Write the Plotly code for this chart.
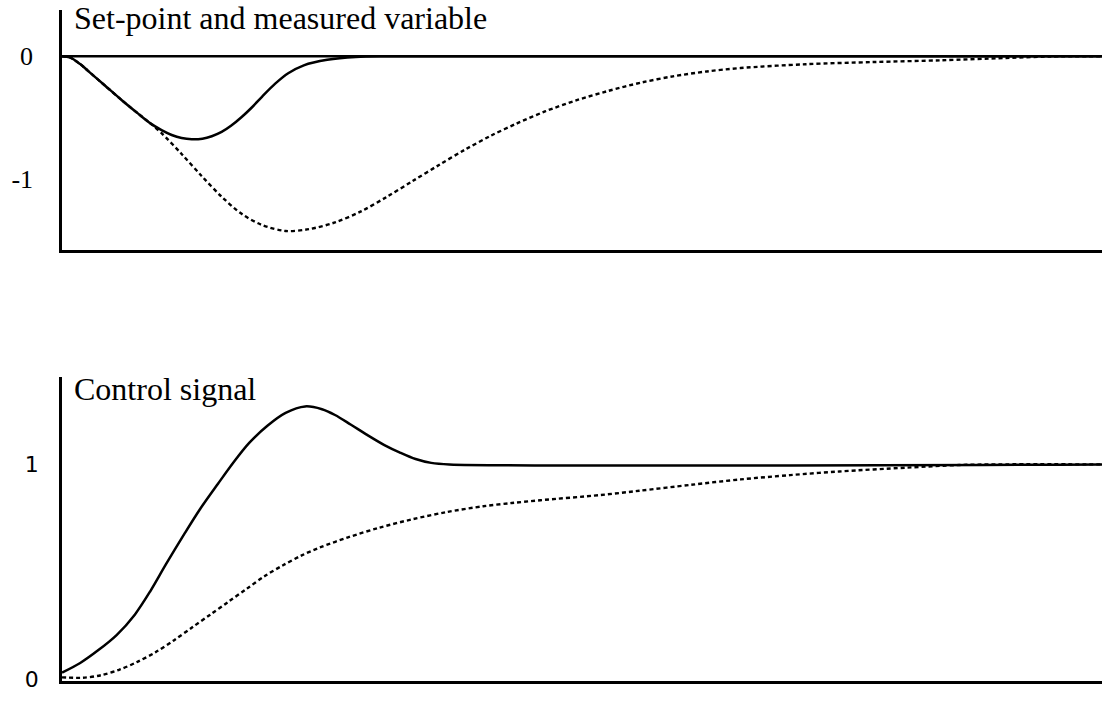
import plotly.graph_objects as go

# Time axis (arbitrary units) and responses, read as sample points
t_meas_ff = [0, 0.3, 0.7, 1.0, 1.65, 2.3, 2.93, 3.4, 3.83, 4.22, 4.6, 4.99,
             5.4, 5.76, 6.14, 6.5, 6.9, 7.3, 7.7, 8.2, 8.7, 9.3, 10.2, 11.3,
             12.5, 40]
y_meas_ff = [0, -0.01, -0.065, -0.12, -0.24, -0.36, -0.47, -0.55, -0.605,
             -0.645, -0.67, -0.68, -0.675, -0.655, -0.62, -0.57, -0.50, -0.42,
             -0.33, -0.225, -0.14, -0.075, -0.03, -0.006, 0, 0]

t_meas_fb = [0, 0.3, 0.7, 1.0, 1.65, 2.3, 2.93, 3.4, 3.83, 4.6, 5.37, 6.14,
             6.91, 7.68, 8.6, 9.5, 10.5, 11.5, 12.5, 13.5, 14.5, 15.5, 16.5,
             17.5, 18.6, 19.8, 21.0, 22.3, 23.5, 24.8, 26.1, 28.6, 31.2, 33.8,
             36.3, 38.0, 40]
y_meas_fb = [0, -0.01, -0.065, -0.12, -0.24, -0.36, -0.47, -0.55, -0.63,
             -0.80, -0.98, -1.15, -1.29, -1.38, -1.43, -1.415, -1.36, -1.27,
             -1.15, -1.02, -0.89, -0.765, -0.65, -0.55, -0.45, -0.36, -0.285,
             -0.215, -0.165, -0.125, -0.097, -0.066, -0.048, -0.034, -0.015,
             -0.003, 0]

t_setpoint = [0, 40]
y_setpoint = [0, 0]

t_ctrl_ff = [0, 0.7, 1.4, 2.1, 2.8, 3.4, 4.0, 4.7, 5.3, 6.0, 6.6, 7.2, 7.9,
             8.6, 9.35, 10.0, 10.5, 11.1, 11.7, 12.4, 13.0, 13.6, 14.2, 14.9,
             40]
u_ctrl_ff = [0.03, 0.075, 0.135, 0.205, 0.30, 0.41, 0.535, 0.675, 0.79, 0.91,
             1.01, 1.10, 1.18, 1.24, 1.27, 1.257, 1.23, 1.186, 1.14, 1.09,
             1.055, 1.025, 1.007, 1.0, 1.0]

t_ctrl_fb = [0, 0.8, 1.5, 2.2, 2.9, 3.6, 4.3, 5.0, 5.7, 6.4, 7.1, 7.8, 8.5,
             9.2, 9.9, 11.0, 12.2, 13.5, 14.8, 16.2, 17.3, 18.4, 20.7, 22.2,
             24.2, 26.1, 28.0, 29.9, 32.5, 34.5, 36.0, 40]
u_ctrl_fb = [0.008, 0.006, 0.018, 0.043, 0.08, 0.125, 0.18, 0.24, 0.30, 0.36,
             0.42, 0.48, 0.53, 0.575, 0.612, 0.66, 0.705, 0.745, 0.778, 0.805,
             0.82, 0.833, 0.857, 0.877, 0.905, 0.93, 0.95, 0.967, 0.985,
             0.997, 1.0, 1.0]

top_ticks = [0, -1]
top_ticktext = ["0", "-1"]
bottom_ticks = [0, 1]
bottom_ticktext = ["0", "1"]

W, H = 1115, 704
SOLID = dict(color="black", width=2.5)
DASHED = dict(color="black", width=2.4, dash="4px,3px")
SMOOTH = dict(shape="spline", smoothing=0.9)

fig = go.Figure()
fig.add_trace(go.Scatter(x=t_setpoint, y=y_setpoint, mode="lines", line=SOLID,
                         xaxis="x", yaxis="y"))
fig.add_trace(go.Scatter(x=t_meas_fb, y=y_meas_fb, mode="lines",
                         line=dict(DASHED, **SMOOTH), xaxis="x", yaxis="y"))
fig.add_trace(go.Scatter(x=t_meas_ff, y=y_meas_ff, mode="lines",
                         line=dict(SOLID, **SMOOTH), xaxis="x", yaxis="y"))
fig.add_trace(go.Scatter(x=t_ctrl_fb, y=u_ctrl_fb, mode="lines",
                         line=dict(DASHED, **SMOOTH), xaxis="x2", yaxis="y2"))
fig.add_trace(go.Scatter(x=t_ctrl_ff, y=u_ctrl_ff, mode="lines",
                         line=dict(SOLID, **SMOOTH), xaxis="x2", yaxis="y2"))

x_dom = [62 / W, 1102 / W]
common_x = dict(domain=x_dom, range=[0, 40], showline=True, linecolor="black",
                linewidth=2.5, showticklabels=False, ticks="", showgrid=False,
                zeroline=False)
common_y = dict(showline=True, linecolor="black", linewidth=2.5, ticks="",
                showgrid=False, zeroline=False)

fig.update_layout(
    width=W, height=H,
    margin=dict(l=0, r=0, t=0, b=0),
    paper_bgcolor="white", plot_bgcolor="white",
    showlegend=False,
    xaxis=dict(common_x, anchor="y"),
    yaxis=dict(common_y, anchor="x", domain=[1 - 254 / H, 1 - 10 / H],
               range=[-1.586, 0.379], tickvals=top_ticks, ticktext=top_ticktext,
               ticklabelstandoff=21,
               tickfont=dict(family="Liberation Serif", size=26, color="black")),
    xaxis2=dict(common_x, anchor="y2"),
    yaxis2=dict(common_y, anchor="x2", domain=[1 - 692 / H, 1 - 383 / H],
                range=[-0.01, 1.407], tickvals=bottom_ticks,
                ticktext=bottom_ticktext, ticklabelstandoff=16,
                tickfont=dict(family="DejaVu Sans", size=22, color="black")),
    annotations=[
        dict(text="Set-point and measured variable", xref="paper", yref="paper",
             x=72 / W, y=1 - 18 / H, xanchor="left", yanchor="middle",
             showarrow=False,
             font=dict(family="Liberation Serif", size=32, color="black")),
        dict(text="Control signal", xref="paper", yref="paper",
             x=72 / W, y=1 - 395 / H, xanchor="left", yanchor="middle",
             showarrow=False,
             font=dict(family="Liberation Serif", size=32, color="black")),
    ],
)

fig.write_html("out.html")
